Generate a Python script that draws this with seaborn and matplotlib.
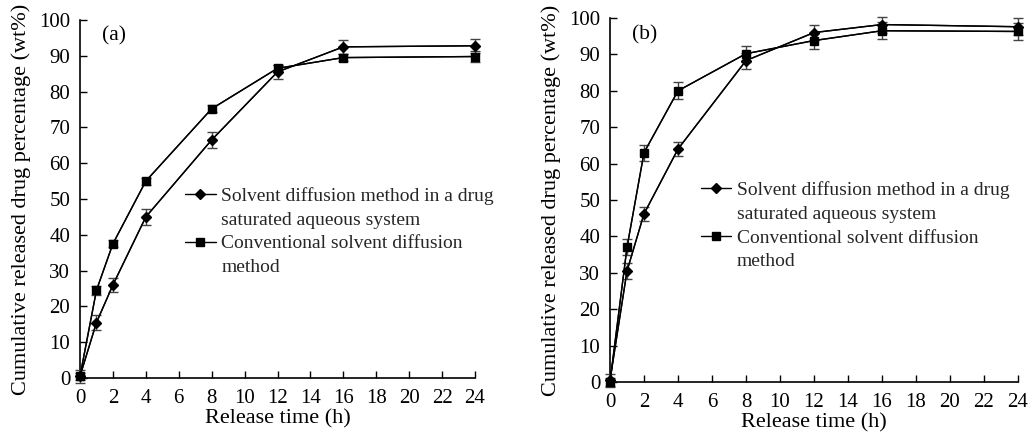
import numpy as np
import pandas as pd
import matplotlib
matplotlib.use("Agg")
import matplotlib.pyplot as plt
from matplotlib.lines import Line2D
import seaborn as sns

# ---- data ----
time_h = [0, 1, 2, 4, 8, 12, 16, 24]
xticks = list(range(0, 25, 2))
yticks = list(range(0, 101, 10))

a_sat = [0.5, 15.5, 26.0, 45.0, 66.5, 85.5, 92.5, 92.8]
a_sat_err = [1.8, 2.0, 2.0, 2.2, 2.2, 2.0, 2.0, 2.0]
a_conv = [0.5, 24.5, 37.5, 55.0, 75.2, 86.5, 89.5, 89.8]
a_conv_err = [1.0, 1.2, 1.0, 1.0, 1.0, 1.0, 1.0, 1.5]

b_sat = [0.5, 30.5, 46.2, 64.0, 88.3, 96.0, 98.2, 97.6]
b_sat_err = [1.8, 2.2, 2.0, 2.0, 2.2, 2.0, 2.2, 2.3]
b_conv = [0.0, 37.0, 63.0, 80.0, 90.2, 93.8, 96.5, 96.3]
b_conv_err = [1.0, 2.2, 2.2, 2.3, 2.2, 2.2, 2.3, 2.3]

label_sat = ["Solvent diffusion method in a drug", "saturated aqueous system"]
label_conv = ["Conventional solvent diffusion", "method"]

sns.set_theme(style="ticks")
plt.rcParams['font.family'] = ['Liberation Serif', 'DejaVu Serif']

fig = plt.figure(figsize=(10.28, 4.34), dpi=100)
ax_a = fig.add_axes([80/1028, 1-378/434, (475-80)/1028, (378-20)/434])
ax_b = fig.add_axes([610/1028, 1-382/434, (1018-610)/1028, (382-18)/434])


def draw(ax, sat, sat_err, conv, conv_err, tag, legend_xy):
    df = pd.DataFrame({
        "t": time_h * 2,
        "v": sat + conv,
        "s": ["sat"] * len(time_h) + ["conv"] * len(time_h),
    })
    sns.lineplot(data=df, x="t", y="v", hue="s", style="s",
                 palette=["black", "black"], markers=["D", "s"], dashes=False,
                 markersize=0, linewidth=1.0, ax=ax, legend=False, clip_on=False)
    ax.errorbar(time_h, sat, yerr=sat_err, fmt="none", ecolor="#444444",
                elinewidth=1.0, capsize=3.5, capthick=1.0, clip_on=False, zorder=3)
    ax.errorbar(time_h, conv, yerr=conv_err, fmt="none", ecolor="#444444",
                elinewidth=1.0, capsize=3.5, capthick=1.0, clip_on=False, zorder=3)
    h1, = ax.plot(time_h, sat, color="black", lw=1.0, marker="D", markersize=4.8,
                  markerfacecolor="black", markeredgecolor="black", clip_on=False,
                  zorder=4)
    h2, = ax.plot(time_h, conv, color="black", lw=1.0, marker="s", markersize=6.3,
                  markerfacecolor="black", markeredgecolor="black", clip_on=False,
                  zorder=4)
    blank = Line2D([], [], linestyle="none", marker=None)
    handles = [h1, blank, h2, blank]
    labels = [label_sat[0], label_sat[1], label_conv[0], label_conv[1]]
    ax.set_xlim(0, 24)
    ax.set_ylim(0, 100)
    ax.set_xticks(xticks)
    ax.set_yticks(yticks)
    ax.tick_params(direction="in", length=5, width=1, labelsize=15,
                   colors="black")
    ax.tick_params(axis="x", pad=8)
    ax.tick_params(axis="y", pad=7)
    for sp in ["top", "right"]:
        ax.spines[sp].set_visible(False)
    for sp in ["left", "bottom"]:
        ax.spines[sp].set_color("black")
        ax.spines[sp].set_linewidth(1.2)
    ax.set_xlabel("Release time (h)", fontsize=16, color="black", labelpad=1)
    ax.set_ylabel("Cumulative released drug percentage (wt%)", fontsize=16,
                  color="black", labelpad=6)
    ax.text(0.055, 0.955, tag, transform=ax.transAxes, fontsize=15.5,
            ha="left", va="center", color="black")
    leg = ax.legend(handles=handles, labels=labels, loc="upper left",
                    bbox_to_anchor=legend_xy, frameon=True, fontsize=14,
                    handlelength=1.55, handletextpad=0.3,
                    labelspacing=0.32, borderpad=0.3, borderaxespad=0)
    leg.get_frame().set_facecolor("white")
    leg.get_frame().set_edgecolor("none")
    leg.get_frame().set_alpha(1.0)
    leg.set_zorder(5)


draw(ax_a, a_sat, a_sat_err, a_conv, a_conv_err, "(a)", (0.252, 0.55))
draw(ax_b, b_sat, b_sat_err, b_conv, b_conv_err, "(b)", (0.209, 0.568))

fig.savefig("out.png", dpi=100, facecolor="white")
